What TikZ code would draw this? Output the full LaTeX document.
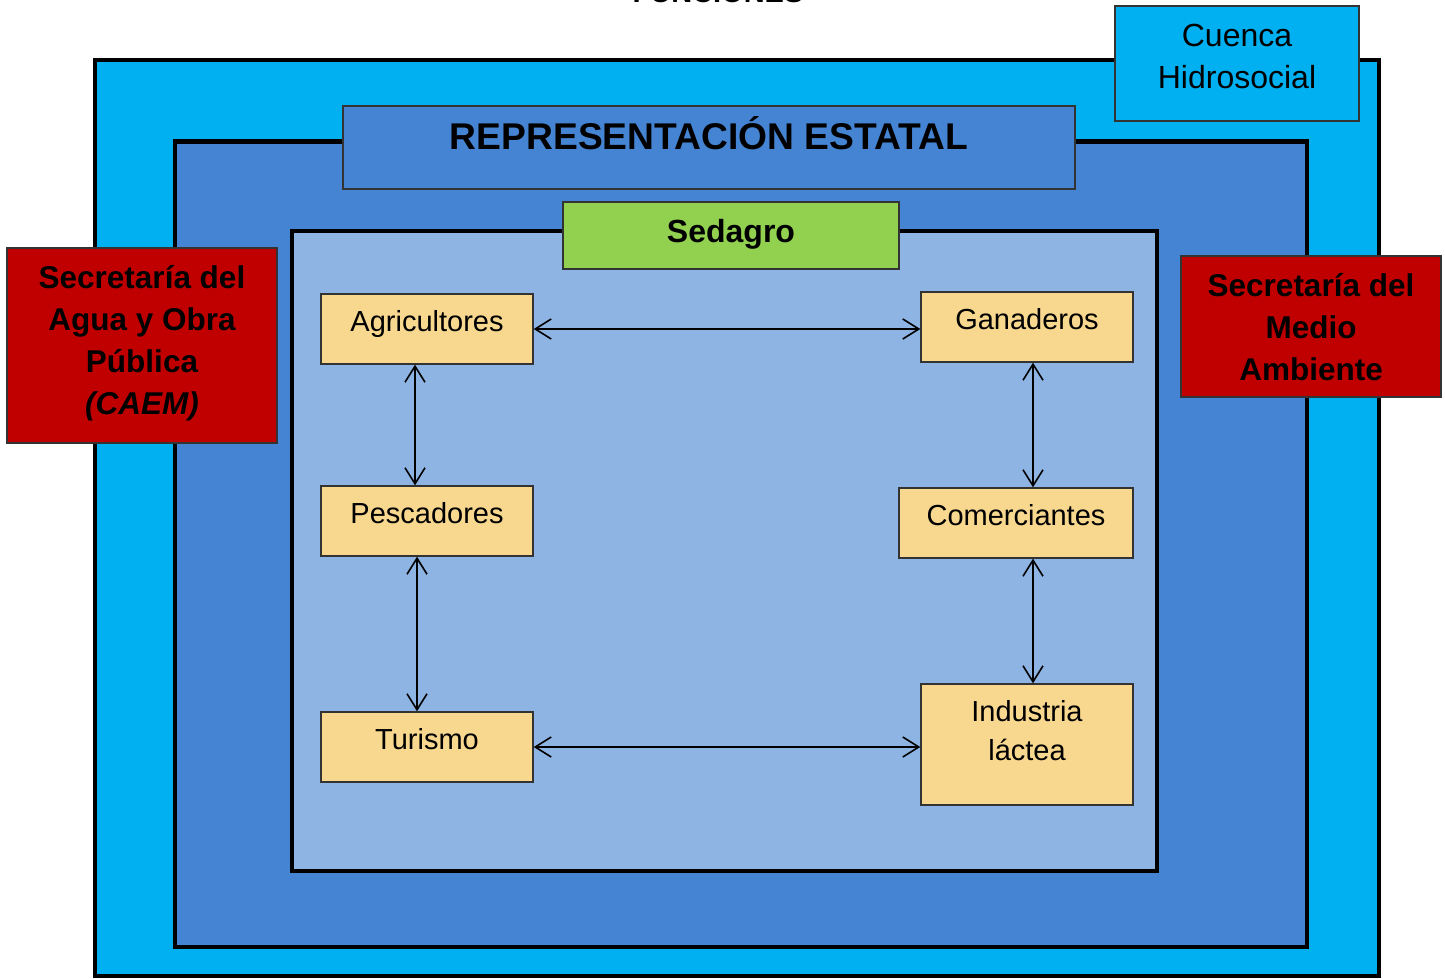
\documentclass[tikz,border=0pt]{standalone}
\usepackage{fontspec}
\setmainfont{Liberation Sans}
\usetikzlibrary{arrows.meta}
\definecolor{cuencafill}{HTML}{00B0F0}
\definecolor{estatalfill}{HTML}{4584D3}
\definecolor{sedagrobg}{HTML}{8EB4E3}
\definecolor{sedagrofill}{HTML}{92D050}
\definecolor{actorfill}{HTML}{F8D78F}
\definecolor{secred}{HTML}{C00000}
\tikzset{
  region/.style={draw=black, line width=2.3pt},
  panel/.style={draw=black!80, line width=0.7pt, inner sep=0pt, align=center},
  actor/.style={panel, fill=actorfill, minimum width=106pt,
    text height=18.5pt, text depth=16.5pt, font=\fontsize{14.5}{19.5}\selectfont},
  secretaria/.style={panel, fill=secred, font=\fontsize{15.75}{21}\selectfont\bfseries},
  link/.style={{Straight Barb[length=8pt,width=10pt]}-{Straight Barb[length=8pt,width=10pt]},
    line width=0.8pt}
}

\begin{document}
\begin{tikzpicture}[x=0.5pt, y=-0.5pt]
    \useasboundingbox (0,0) rectangle (1445,979);

    \coordinate (C1) at (95, 60);
    \coordinate (C2) at (1379, 976);
    \coordinate (E1) at (175, 141.5);
    \coordinate (E2) at (1307, 947);
    \coordinate (S1) at (292, 231);
    \coordinate (S2) at (1157, 871);

    \node[font=\fontsize{14.5}{17}\selectfont\bfseries, anchor=base] (funciones) at (718, 3) {FUNCIONES};

    % cuenca, estado, sedagro
    \draw[region, fill=cuencafill] (C1) rectangle (C2);
    \draw[region, fill=estatalfill] (E1) rectangle (E2);
    \node[panel, fill=estatalfill, minimum width=366pt, text height=21.5pt, text depth=20pt,
      font=\fontsize{18.6}{21}\selectfont\bfseries] (estatal) at (709, 147.5) {REPRESENTACIÓN ESTATAL};
    \draw[region, fill=sedagrobg] (S1) rectangle (S2);
    \node[panel, fill=sedagrofill, minimum width=168pt, text height=20.25pt, text depth=13.25pt,
      font=\fontsize{16}{20}\selectfont\bfseries] (sedagro) at (731, 235.5) {Sedagro};

    % actores
    \node[actor] (agri) at (427, 329) {Agricultores};
    \node[actor] (gana) at (1027, 327) {Ganaderos};
    \node[actor] (pesc) at (427, 521) {Pescadores};
    \node[actor, minimum width=117pt] (come) at (1016, 523) {Comerciantes};
    \node[actor] (turi) at (427, 747) {Turismo};
    \node[actor, text height=38pt, text depth=22.5pt] (indu) at (1027, 744.5) {Industria\\láctea};

    \draw[link] (agri.east) -- (agri.east -| gana.west);
    \draw[link] ([xshift=-6pt]agri.south) -- ([xshift=-6pt]agri.south |- pesc.north);
    \draw[link] ([xshift=-5pt]pesc.south) -- ([xshift=-5pt]pesc.south |- turi.north);
    \draw[link] ([xshift=3pt]gana.south) -- ([xshift=3pt]gana.south |- come.north);
    \draw[link] ([xshift=3pt]indu.north |- come.south) -- ([xshift=3pt]indu.north);
    \draw[link] (turi.east) -- (turi.east -| indu.west);

    % secretarias y cuenca
    \node[secretaria, minimum width=135pt, text height=83pt, text depth=14.5pt] (caem) at (142, 345.5)
      {Secretaría del\\Agua y Obra\\Pública\\\textit{(CAEM)}};
    \node[secretaria, minimum width=130pt, text height=62pt, text depth=8.5pt] (medio) at (1311, 326.5)
      {Secretaría del\\Medio\\Ambiente};
    \node[panel, fill=cuencafill, minimum width=122pt, text height=41.25pt, text depth=16.25pt,
      font=\fontsize{16}{21}\selectfont] (cuenca) at (1237, 63.5) {Cuenca\\Hidrosocial};
\end{tikzpicture}
\end{document}
